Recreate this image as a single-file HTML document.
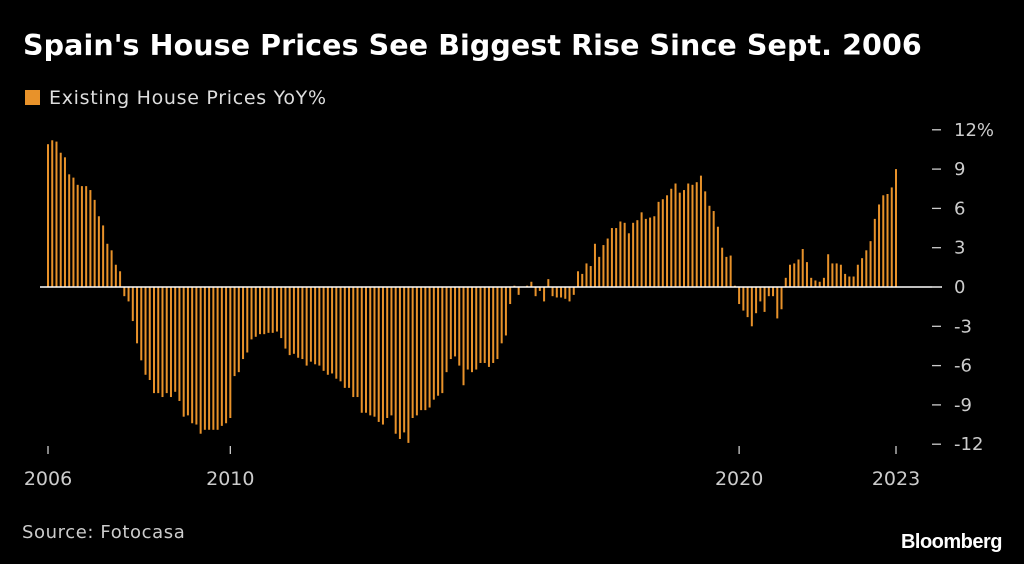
<!DOCTYPE html>
<html><head><meta charset="utf-8"><style>
html,body{margin:0;padding:0;background:#000;}
body{width:1024px;height:564px;position:relative;overflow:hidden;font-family:"DejaVu Sans","Liberation Sans",sans-serif;}
#title{position:absolute;left:23px;top:29px;color:#fff;font-weight:bold;font-size:28.5px;white-space:nowrap;letter-spacing:0.1px;}
#legend{position:absolute;left:25px;top:87px;color:#ddd;font-size:19px;white-space:nowrap;letter-spacing:0.7px;}
#legend span.sw{display:inline-block;width:15px;height:15px;background:#e8922a;margin-right:9px;vertical-align:-1px;}
#source{position:absolute;left:22px;top:522px;color:#ccc;font-size:18px;letter-spacing:0.6px;}
#brand{position:absolute;right:22px;top:531px;color:#fff;font-weight:bold;font-size:20px;font-family:"Liberation Sans",sans-serif;letter-spacing:-0.5px;}
svg{position:absolute;left:0;top:0;}
</style></head><body>
<div id="title">Spain's House Prices See Biggest Rise Since Sept. 2006</div>
<div id="legend"><span class="sw"></span>Existing House Prices YoY%</div>
<svg id="chart" width="1024" height="564"></svg>
<div id="source">Source: Fotocasa</div>
<div id="brand">Bloomberg</div>
<script>
const values = [10.9,11.2,11.1,10.25,9.9,8.6,8.35,7.8,7.7,7.7,7.4,6.65,5.4,4.7,3.3,2.8,1.7,1.2,
-0.7,-1.1,-2.6,-4.3,-5.6,-6.7,-7.1,-8.1,-8.1,-8.4,-8.1,-8.4,-8.0,-8.7,-9.9,-9.8,-10.4,-10.5,-11.2,-10.9,-10.9,-10.9,-10.9,-10.6,-10.4,-10.0,-6.8,-6.5,-5.5,-5.0,-4.0,-3.8,-3.6,-3.6,-3.5,-3.5,-3.4,
-3.9,-4.7,-5.2,-5.1,-5.4,-5.5,-6.0,-5.7,-5.9,-6.0,-6.4,-6.7,-6.6,-7.0,-7.2,-7.7,-7.7,-8.4,-8.4,-9.6,
-9.6,-9.8,-9.9,-10.3,-10.5,-10.0,-9.8,-11.2,-11.6,-11.1,-11.9,-10.0,-9.8,-9.4,-9.4,-9.2,-8.6,-8.3,-8.1,-6.5,
-5.5,-5.3,-6.0,-7.5,-6.3,-6.5,-6.3,-5.8,-5.8,-6.1,-5.8,-5.5,-4.3,-3.7,-1.3,0.1,-0.6,0,0.1,0.4,-0.7,
-0.3,-1.1,0.6,-0.7,-0.8,-0.8,-0.9,-1.1,-0.6,1.2,1.0,1.8,1.6,3.3,2.3,3.2,3.7,4.5,4.5,5.0,4.9,4.1,4.9,5.1,5.7,5.2,5.3,5.4,6.5,6.7,7.0,7.5,7.9,7.2,7.4,7.9,7.8,8.0,8.5,7.3,6.2,5.8,4.6,3.0,2.3,2.4,0.1,-1.3,
-1.8,-2.3,-3.0,-2.0,-1.1,-1.9,-0.7,-0.7,-2.4,-1.7,0.7,1.7,1.8,2.1,2.9,1.9,0.7,0.5,0.4,0.7,2.5,1.8,1.8,1.7,1.0,0.8,0.8,1.7,2.2,2.8,3.5,5.2,6.3,7.0,7.1,7.6,9.0];
const yTicks = [12,9,6,3,0,-3,-6,-9,-12];
const xTickLabels = ["2006","2010","2020","2023"];
const xTickIndex = [0,43,163,200];

const svg = document.getElementById('chart');
const NS = 'http://www.w3.org/2000/svg';
const x0 = 48, step = 4.24;
const X = i => x0 + i*step;
const Y = v => 287 - v*13.1;

values.forEach((v,i)=>{
  const r = document.createElementNS(NS,'rect');
  
  
  const y1 = Math.min(Y(v),Y(0)), h = Math.abs(Y(v)-Y(0));
  r.setAttribute('x', X(i)-1);
  r.setAttribute('y', y1);
  r.setAttribute('width', 2);
  r.setAttribute('height', Math.max(h,0.5));
  r.setAttribute('fill','#e8922a');
  svg.appendChild(r);
});
const zl = document.createElementNS(NS,'line');


zl.setAttribute('x1',40); zl.setAttribute('x2',942);
zl.setAttribute('y1',Y(0)); zl.setAttribute('y2',Y(0));
zl.setAttribute('stroke','#fff'); zl.setAttribute('stroke-width',1.5);
svg.appendChild(zl);

yTicks.forEach(t=>{
  const l = document.createElementNS(NS,'line');
  
  
  l.setAttribute('x1',932); l.setAttribute('x2',941);
  l.setAttribute('y1',Y(t)); l.setAttribute('y2',Y(t));
  l.setAttribute('stroke','#ccc'); l.setAttribute('stroke-width',1.3);
  svg.appendChild(l);
  const tx = document.createElementNS(NS,'text');
  
  
  tx.setAttribute('x',954); tx.setAttribute('y',Y(t)+6);
  tx.setAttribute('fill','#ccc'); tx.setAttribute('font-size','18');
  tx.setAttribute('font-family','"DejaVu Sans", sans-serif');
  tx.textContent = t===12 ? '12%' : String(t);
  svg.appendChild(tx);
});
xTickLabels.forEach((lab,k)=>{
  const xx = X(xTickIndex[k]);
  const l = document.createElementNS(NS,'line');
  
  
  l.setAttribute('x1',xx); l.setAttribute('x2',xx);
  l.setAttribute('y1',446); l.setAttribute('y2',454);
  l.setAttribute('stroke','#ccc'); l.setAttribute('stroke-width',1.3);
  svg.appendChild(l);
  const tx = document.createElementNS(NS,'text');
  
  
  tx.setAttribute('x',xx); tx.setAttribute('y',485);
  tx.setAttribute('text-anchor','middle');
  tx.setAttribute('fill','#ccc'); tx.setAttribute('font-size','19');
  tx.setAttribute('font-family','"DejaVu Sans", sans-serif');
  tx.textContent = lab;
  svg.appendChild(tx);
});
</script>
</body></html>
